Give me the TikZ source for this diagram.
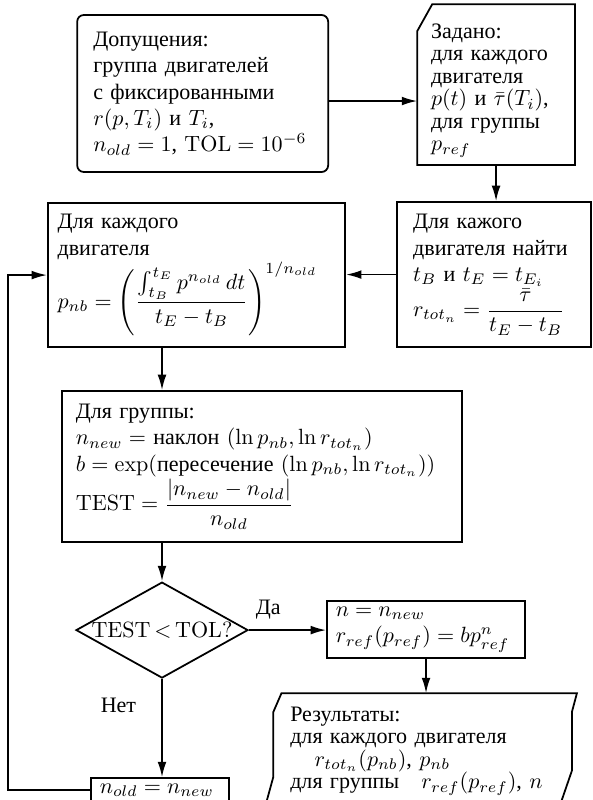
\documentclass[tikz,border=0pt]{standalone}
\usepackage{amsmath}
\usepackage[no-math]{fontspec}
\setmainfont{Liberation Serif}
\usetikzlibrary{arrows.meta,shapes.geometric}

\begin{document}
\begin{tikzpicture}[
  line width=0.8pt,
  arr/.style={-{Latex[length=7pt,width=4pt]}},
  box/.style={draw, rectangle, align=left, inner ysep=1pt},
  iobox/.style={rectangle, align=left, inner ysep=1pt, font=\fontsize{10pt}{10.2pt}\selectfont},
  decision/.style={draw, diamond, inner sep=0pt, minimum width=78pt, minimum height=43.5pt}
]
  \useasboundingbox (0,0) rectangle (9.44,-12.75);

  % допущения
  \node[box, rounded corners=3pt, text width=99.2pt, inner xsep=7.3pt, minimum height=71.2pt] (assume) at (3.23,-1.49)
    {Допущения:\\ группа двигателей\\ с фиксированными\\ $r(p,T_i)$ и $T_i$,\\ $n_{old}=1$, $\mathrm{TOL}=10^{-6}$};

  % задано (срезанный угол)
  \node[iobox, text width=59pt, inner xsep=5.85pt, minimum height=72.1pt] (given) at (7.906,-1.347)
    {\rule{0pt}{12pt}Задано:\\ для каждого\\ двигателя\\ $p(t)$ и $\bar{\tau}(T_i)$,\\ для группы\\ $p_{ref}$};
  \draw (given.south west) -- (given.south east) -- (given.north east) -- ([xshift=0.24cm]given.north west)
    -- ([yshift=-0.43cm]given.north west) -- cycle;

  % найти t_B, t_E
  \node[box, text width=73.4pt, inner xsep=7.3pt, minimum height=65.8pt] (find) at (7.874,-4.376)
    {Для кажого\\ двигателя найти\\ $t_B$ и $t_E=t_{E_i}$\\ $\displaystyle r_{tot_n}=\frac{\bar{\tau}}{t_E-t_B}$};

  % для каждого двигателя
  \node[box, text width=126pt, inner xsep=4.4pt, minimum height=65.3pt] (each) at (3.132,-4.384)
    {Для каждого\\ двигателя\\ $\displaystyle p_{nb}=\left(\frac{\int_{t_B}^{t_E}p^{n_{old}}\,dt}{t_E-t_B}\right)^{1/n_{old}}$};

  % для группы
  \node[box, text width=168.8pt, inner xsep=6.3pt, minimum height=68.5pt] (group) at (4.176,-7.436)
    {Для группы:\\ $n_{new}=$ наклон $(\ln p_{nb},\ln r_{tot_n})$\\ $b=\exp($пересечение $(\ln p_{nb},\ln r_{tot_n}))$\\
     $\displaystyle\mathrm{TEST}=\frac{\left|n_{new}-n_{old}\right|}{n_{old}}$};

  % проверка
  \node[decision] (test) at (2.582,-10.042) {\makebox[0pt]{$\mathrm{TEST}\,{<}\,\mathrm{TOL}?$}};

  % n = n_new
  \node[box, text width=81.8pt, inner xsep=4pt, minimum height=25.8pt] (result) at (6.79,-10.034)
    {$n=n_{new}$\\ $r_{ref}(p_{ref})=bp_{ref}^{n}$};

  % результаты
  \node[iobox, text width=120pt, inner xsep=7.3pt, minimum height=51.7pt] (out) at (6.735,-11.971)
    {Результаты:\\ для каждого двигателя\\ \hspace*{11pt}$r_{tot_n}(p_{nb})$, $p_{nb}$\\ для группы\quad $r_{ref}(p_{ref})$, $n$};
  \draw ([xshift=0.13cm]out.north west) -- ([xshift=0.08cm]out.north east) -- ([yshift=-0.3cm]out.north east)
    -- ([yshift=0.61cm]out.south east) -- ([xshift=-0.21cm]out.south east) -- ([xshift=-0.14cm]out.south west)
    -- ([yshift=0.51cm]out.south west) -- ([yshift=-0.3cm]out.north west) -- cycle;

  % n_old = n_new
  \node[box, text width=54.6pt, inner xsep=4pt, minimum height=10.9pt] (upd) at (2.55,-12.593) {$n_{old}=n_{new}$};

  % стрелки
  \draw[arr] ([yshift=-0.12cm]assume.east) -- ([yshift=-0.12cm]assume.east -| given.west);
  \draw[arr] (given.south) -- (given.south |- find.north);
  \draw[arr] (find.west) -- (find.west -| each.east);
  \draw[arr] (each.south -| test) -- (group.north -| test);
  \draw[arr] (group.south -| test) -- (test.north);
  \draw[arr] (test.east) -- node[pos=0.25, above=1pt] (yes) {Да} (test.east -| result.west);
  \draw[arr] (result.south) -- (result.south |- out.north);
  \draw[arr] (test.south) -- node[pos=0.27, left=8pt] (no) {Нет} (test.south |- upd.north);

  % обратная связь
  \coordinate (back) at (0.13,-12.593);
  \draw[arr] (upd.west) -- (back) |- (each.west);
\end{tikzpicture}
\end{document}
